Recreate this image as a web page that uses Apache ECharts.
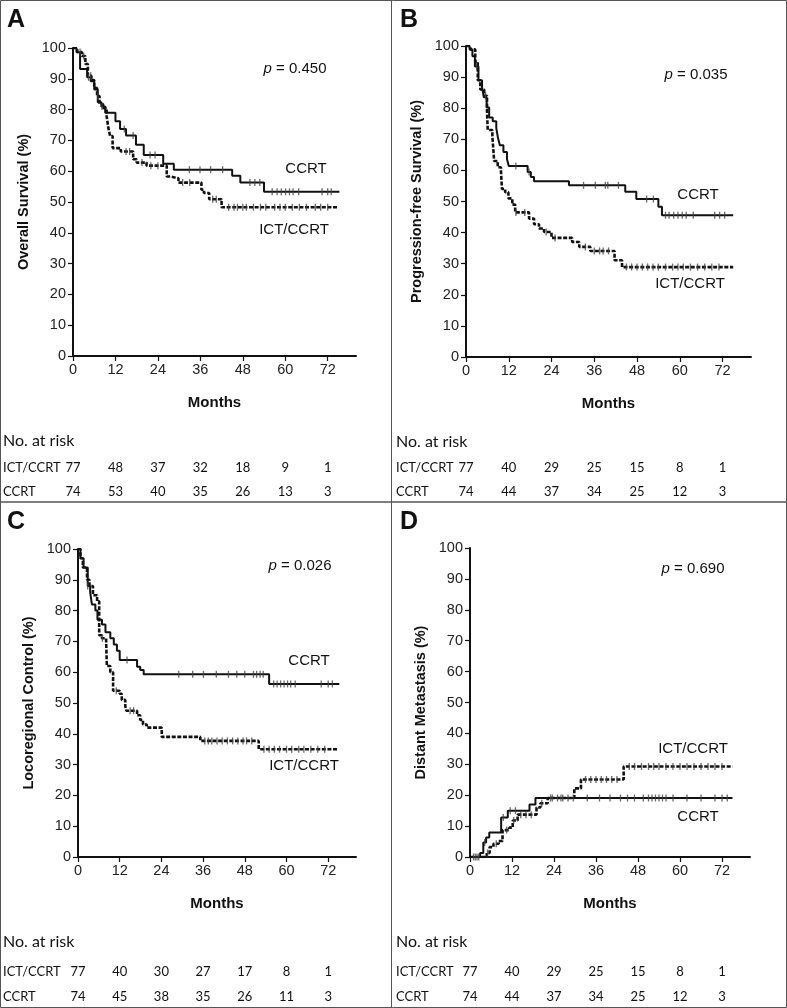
<!DOCTYPE html>
<html><head><meta charset="utf-8">
<script src="https://cdn.jsdelivr.net/npm/echarts@6/dist/echarts.min.js"></script>
<style>html,body{margin:0;padding:0;background:#fff}#c{width:787px;height:1008px}</style>
</head><body><div id="c"></div>
<script>
// ---------------- DATA ----------------
const monthTicks = [0, 12, 24, 36, 48, 60, 72];
const panelLetters = ['A', 'B', 'C', 'D'];
const yTitles = ['Overall Survival (%)', 'Progression-free Survival (%)', 'Locoregional Control (%)', 'Distant Metastasis (%)'];
const pValues = ['0.450', '0.035', '0.026', '0.690'];
const groupNames = ['ICT/CCRT', 'CCRT'];

// Kaplan-Meier step curves: [month, %]
const A_ict = [[0,100],[1.2,98.7],[2.5,97.4],[3.5,94.8],[4.2,91],[5.2,89.6],[6,87],[6.8,84.4],[7.5,81.8],[8.5,80.5],[9.5,77.9],[10,74],[10.5,71.4],[11.2,67.5],[13.5,66.4],[17,63.9],[18,62.8],[20.8,61.8],[26.5,58.3],[27.5,57.7],[29.8,56.3],[36.3,54],[37,52.9],[38.5,50.9],[42,48.3],[75,48.3]];
const A_ccrt = [[0,100],[1,98.6],[2,93.2],[4,90.5],[5,89.2],[6,86.5],[7,82.4],[8,81],[9.1,79],[12,76.2],[13.3,73.7],[15,71.6],[17.8,68.6],[20,65.3],[25.5,62.4],[28.5,60.5],[45,58.5],[47.3,56.3],[54,53.3],[75.3,53.3]];
const B_ict = [[0,100],[1.2,98.9],[2.6,95],[3.3,89],[4,86],[5.1,84],[5.9,79],[6.1,73],[7.4,71],[7.9,63],[8.9,61],[9.8,60],[10.1,54],[11,53],[11.9,51],[13,49],[13.8,46.5],[17.7,44.5],[19.1,42.7],[20.5,41.3],[21.9,40.2],[24,38.3],[29.8,37],[31.8,35.4],[34.9,34.1],[41.7,31.1],[43.8,28.9],[75,28.9]];
const B_ccrt = [[0,100],[1,98.9],[1.8,96.7],[2.5,93.4],[3.5,89],[4.5,86.8],[5,83.5],[5.8,80.2],[6.5,77],[7.5,75.8],[8.5,73.6],[9,70.3],[9.5,68.1],[10.5,65.9],[11.5,63.7],[12,61.4],[17.3,59.5],[18.2,57.9],[19.1,56.5],[28.9,55.2],[44.7,53.1],[47.8,50.8],[54,48.3],[55,45.6],[75,45.6]];
const C_ict = [[0,100],[0.7,97],[1.4,94],[2.6,90],[3.3,88],[4.3,85],[5.5,83],[6.1,72],[6.9,71],[8.1,70],[8.3,62],[9.3,60],[10.1,54],[12,53],[12.6,51],[13.6,49],[13.9,47.5],[17,46],[17.9,44.5],[18.7,43],[19.8,42],[24.1,39],[35.2,37.7],[52,35],[75,35]];
const C_ccrt = [[0,100],[0.7,97],[1.6,94],[2.8,88],[3.5,86],[4,82],[5,80],[5.6,77],[6.9,75.5],[7.9,73],[9.3,71],[10.3,69],[11.2,67],[12,64],[17,61.8],[17.9,60.7],[18.9,59.3],[55,56.2],[75.2,56.2]];
const D_ict = [[0,0],[4.8,1.3],[5.6,3.2],[6.7,4.3],[8.2,5.2],[9.3,8.7],[11.2,9.5],[12.2,11.8],[13.6,13.7],[19,16],[20.1,17.4],[22.2,19.1],[29.8,22.2],[31.7,25.1],[43.9,29.3],[75,29.3]];
const D_ccrt = [[0,0],[2.9,1.3],[3.8,4.7],[4.6,6.3],[5.5,7.9],[8.9,12.8],[10.8,15],[17,17],[18.7,19.1],[75,19.1]];

// censor times (months)
const A_ict_cens = [2,3,5,7,15,16,19.5,22,24,31,33,39.5,40.5,44,45.5,46.5,48,49,51,53,54.5,57,58.5,60,62,64,66,68.5,70,72];
const A_ccrt_cens = [4.4,8.2,14.5,17,21.8,23.2,32.9,35.9,38.9,42.3,50,51.4,52.8,56.3,57.7,58.9,60.1,61.2,62.2,63.8,70.4,72,73];
const B_ict_cens = [5.5,14,16.5,22.5,25,33.5,36,37.5,38.5,40,45,46.5,48,49.5,51,52.5,54,56,58,59.5,61,63,65,67,69,71];
const B_ccrt_cens = [3,14,17.7,33,36.3,39.1,39.8,42.8,50.7,52.6,56,57,58.3,59.5,60.7,61.8,63.8,69.8,71.2,72.6];
const C_ict_cens = [7,11,15,16,36.5,37.5,38.5,40,41.5,43,44.5,46,47.5,48.5,50,53.5,55,56.5,58,60,61.5,63.5,65,67,69,71];
const C_ccrt_cens = [2.8,14.1,29,33,36.1,39.8,43.3,45.7,48,50.5,51.4,52.4,53.3,56.3,57.3,58.3,59.3,60.3,61.2,62.5,70,72,73.2];
const D_ict_cens = [5,7.5,10.5,12.5,14.5,16,17.5,20.5,23.5,25,26.5,28,33,34.5,36,37.5,39,40.5,42,45.5,47,49,51,52.5,54,56,58,60,62,64,66,68,70,72];
const D_ccrt_cens = [1,1.5,2,2.5,4.2,9.5,11.5,13,23,26,29.5,33.5,37,40,43,45,47,49.5,51,52,53,54,55,56,58,62,66,70,72,73.5];

// numbers at risk at 0,12,...,72 months
const A_risk_ict = [77,48,37,32,18,9,1];
const A_risk_ccrt = [74,53,40,35,26,13,3];
const B_risk_ict = [77,40,29,25,15,8,1];
const B_risk_ccrt = [74,44,37,34,25,12,3];
const C_risk_ict = [77,40,30,27,17,8,1];
const C_risk_ccrt = [74,45,38,35,26,11,3];
const D_risk_ict = [77,40,29,25,15,8,1];
const D_risk_ccrt = [74,44,37,34,25,12,3];

// ---------------- BUILD ----------------
const curves = [[A_ict, A_ccrt],[B_ict, B_ccrt],[C_ict, C_ccrt],[D_ict, D_ccrt]];
const censors = [[A_ict_cens, A_ccrt_cens],[B_ict_cens, B_ccrt_cens],[C_ict_cens, C_ccrt_cens],[D_ict_cens, D_ccrt_cens]];
const risks = [[A_risk_ict, A_risk_ccrt],[B_risk_ict, B_risk_ccrt],[C_risk_ict, C_risk_ccrt],[D_risk_ict, D_risk_ccrt]];

const layout = [
  {left:73, top:48, width:283, height:308, ox:0, oy:0, r1:105, r2:129},
  {left:466, top:46, width:285, height:311, ox:393, oy:0, r1:104, r2:128},
  {left:78, top:549, width:278, height:308, ox:0, oy:502, r1:108, r2:133},
  {left:470, top:548, width:280, height:309, ox:393, oy:502, r1:108, r2:133}
];
const groupLabelPos = [
  {ccrt:[306,169], ict:[294,230]},
  {ccrt:[698,195], ict:[690,284]},
  {ccrt:[309,661], ict:[304,766]},
  {ccrt:[698,817], ict:[693,749]}
];
const pPos = [[295,69],[696,75],[300,566],[693,569]];

function stepAt(curve, t) {
  let v = curve[0][1];
  for (const [x, y] of curve) { if (x <= t) v = y; else break; }
  return v;
}

const FF = '"Liberation Sans", Arial, sans-serif';
const TF = 'Lato, sans-serif';
const grid = [], xAxis = [], yAxis = [], series = [], graphic = [];

layout.forEach((L, i) => {
  grid.push({left:L.left, top:L.top, width:L.width, height:L.height});
  xAxis.push({
    type:'value', gridIndex:i, min:0, max:80,
    axisLine:{lineStyle:{color:'#111', width:2}},
    axisTick:{customValues:monthTicks, length:5, lineStyle:{color:'#111', width:1.2}},
    axisLabel:{customValues:monthTicks, fontFamily:'Liberation Sans', fontSize:14.5, color:'#222', margin:6},
    splitLine:{show:false},
    name:'Months', nameLocation:'middle', nameGap:39,
    nameTextStyle:{fontFamily:'Liberation Sans', fontSize:15, fontWeight:'bold', color:'#111'}
  });
  [L.r1, L.r2].forEach((off, g) => {
    xAxis.push({
      type:'value', gridIndex:i, min:0, max:80, position:'bottom', offset:off,
      axisLine:{show:false}, axisTick:{show:false}, splitLine:{show:false},
      axisLabel:{customValues:monthTicks, margin:0, fontFamily:'Lato', fontSize:13, color:'#111',
        formatter: v => { const k = monthTicks.indexOf(v); return k >= 0 ? String(risks[i][g][k]) : ''; }}
    });
  });
  yAxis.push({
    type:'value', gridIndex:i, min:0, max:100, interval:10,
    axisLine:{show:true, lineStyle:{color:'#111', width:2}},
    axisTick:{show:true, length:5, lineStyle:{color:'#111', width:1.2}},
    axisLabel:{fontFamily:'Liberation Sans', fontSize:14.5, color:'#222', margin:7},
    splitLine:{show:false},
    name:yTitles[i], nameLocation:'middle', nameGap:42, nameRotate:90,
    nameTextStyle:{fontFamily:'Liberation Sans', fontSize:14.5, fontWeight:'bold', color:'#111'}
  });
  const xi = i * 3;
  series.push({type:'line', name:'ICT/CCRT', xAxisIndex:xi, yAxisIndex:i, step:'end', showSymbol:false,
    data:curves[i][0], lineStyle:{color:'#111', width:2.6, type:[4,1.6]}, z:3, silent:true});
  series.push({type:'line', name:'CCRT', xAxisIndex:xi, yAxisIndex:i, step:'end', showSymbol:false,
    data:curves[i][1], lineStyle:{color:'#111', width:2}, z:4, silent:true});
  [0,1].forEach(g => {
    series.push({type:'scatter', xAxisIndex:xi, yAxisIndex:i, symbol:'rect', symbolSize:[1.3,7],
      itemStyle:{color:'#444'}, z:5, silent:true,
      data:censors[i][g].map(t => [t, stepAt(curves[i][g], t)])});
  });

  graphic.push({type:'text', left:L.ox + 7, top:L.oy + 8, style:{text:panelLetters[i], font:'bold 25px ' + FF, fill:'#111'}});
  graphic.push({type:'text', x:pPos[i][0], y:pPos[i][1], style:{
    text:'{i|p} = ' + pValues[i], font:'15px ' + FF, fill:'#111', align:'center', verticalAlign:'middle',
    rich:{i:{fontStyle:'italic', fontFamily:'Liberation Sans', fontSize:15, fill:'#111'}}}});
  graphic.push({type:'text', x:groupLabelPos[i].ccrt[0], y:groupLabelPos[i].ccrt[1], style:{text:'CCRT', font:'15px ' + FF, fill:'#111', align:'center', verticalAlign:'middle'}});
  graphic.push({type:'text', x:groupLabelPos[i].ict[0], y:groupLabelPos[i].ict[1], style:{text:'ICT/CCRT', font:'15px ' + FF, fill:'#111', align:'center', verticalAlign:'middle'}});
  const baseY = L.top + L.height;
  graphic.push({type:'text', x:L.ox + 3, y:baseY + 85, style:{text:'No. at risk', font:'16px ' + TF, fill:'#111', verticalAlign:'middle'}});
  graphic.push({type:'text', x:L.ox + 3, y:baseY + L.r1 + 7, style:{text:groupNames[0], font:'13px ' + TF, fill:'#111', verticalAlign:'middle'}});
  graphic.push({type:'text', x:L.ox + 3, y:baseY + L.r2 + 7, style:{text:groupNames[1], font:'13px ' + TF, fill:'#111', verticalAlign:'middle'}});
});

graphic.push({type:'rect', shape:{x:0.5, y:0.5, width:786, height:1007}, style:{fill:null, stroke:'#555', lineWidth:1}});
graphic.push({type:'line', shape:{x1:391.5, y1:0, x2:391.5, y2:1008}, style:{stroke:'#555', lineWidth:1}});
graphic.push({type:'line', shape:{x1:0, y1:502, x2:787, y2:502}, style:{stroke:'#555', lineWidth:1.5}});

const chart = echarts.init(document.getElementById('c'), null, {renderer:'canvas'});
chart.setOption({animation:false, backgroundColor:'#fff', grid, xAxis, yAxis, series, graphic});
</script></body></html>
